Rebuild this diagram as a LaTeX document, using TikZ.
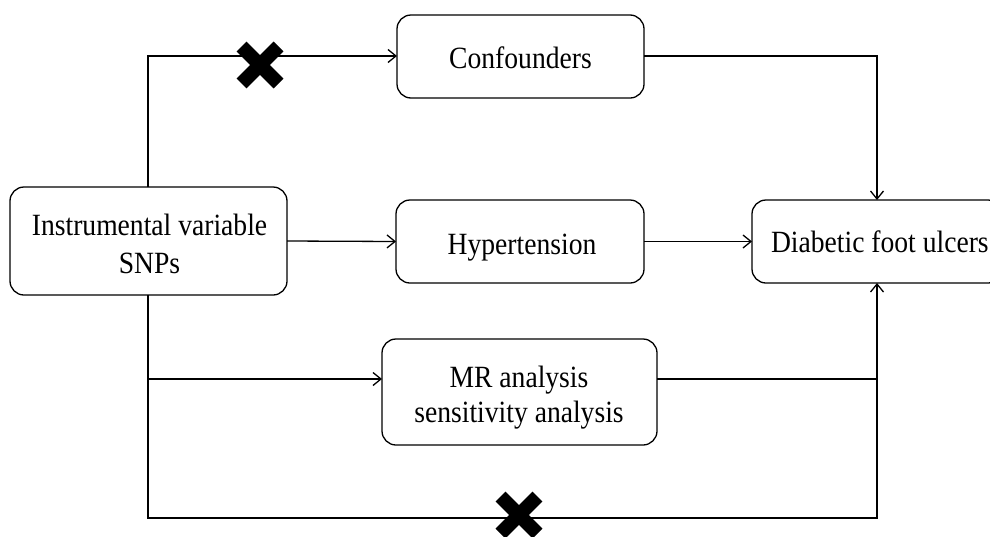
\documentclass[tikz,border=0pt]{standalone}
\usepackage{fontspec}
\setmainfont{Liberation Serif}
\usetikzlibrary{arrows.meta}
\newcommand{\tallify}[1]{\scalebox{1}[1.12]{#1}}
\begin{document}
\begin{tikzpicture}[x=1pt,y=-1pt,
  box/.style={draw, line width=1.3pt, rounded corners=14pt, inner sep=0pt, outer sep=0pt},
  txt/.style={inner sep=0pt, outer sep=0pt, anchor=base, font=\fontsize{27.6}{33}\selectfont},
  conn/.style={line width=1.3pt},
  arr/.style={conn, -{Straight Barb[length=8pt,width=13pt,line width=1.3pt]}},
  cross/.style={line width=14pt, black}]
\clip (0,0) rectangle (990,536);
\fill[white] (0,0) rectangle (990,536);
% boxes
\node[box, minimum width=277pt, minimum height=108pt] (iv) at (148.5,241) {};
\node[box, minimum width=247pt, minimum height=83pt] (conf) at (520.5,56.5) {};
\node[box, minimum width=248pt, minimum height=83pt] (hyp) at (520,241.5) {};
\node[box, minimum width=275pt, minimum height=106pt] (mr) at (519.5,392) {};
\node[box, minimum width=250pt, minimum height=83pt] (dfu) at (877,241.5) {};
% texts
\node[txt] (ivt1) at (149.5,235) {\tallify{Instrumental variable}};
\node[txt] (ivt2) at (149.5,273) {\tallify{SNPs}};
\node[txt] (conft) at (520.5,68) {\tallify{Confounders}};
\node[txt] (hypt) at (522,254) {\tallify{Hypertension}};
\node[txt] (mrt1) at (519,387) {\tallify{MR analysis}};
\node[txt] (mrt2) at (519,422) {\tallify{sensitivity analysis}};
\node[txt, anchor=base west] (dfut) at (771,252) {\tallify{Diabetic foot ulcers}};
% connectors
\coordinate (tl) at (148,56);
\coordinate (tr) at (877,56);
\coordinate (br) at (877,518);
\coordinate (bl) at (148,518);
\coordinate (ml) at (148,379);
\coordinate (mrr) at (877,379);
\draw[arr] (iv.north -| tl) -- (tl) -- (conf.west |- tl);
\draw[arr] (conf.east |- tr) -- (tr) -- (dfu.north -| tr);
\draw[arr] (iv.east) -- (hyp.west);
\draw[arr] (hyp.east) -- (dfu.west);
\draw[arr] (iv.south -| bl) -- (bl) -- (br) -- (dfu.south -| br);
\draw[arr] (ml) -- (mr.west |- ml);
\draw[conn] (mr.east |- mrr) -- (mrr);
% crosses
\coordinate (x1) at (260,65);
\coordinate (x2) at (519,515);
\foreach \c in {x1,x2}{
  \draw[cross] ([shift={(-18.5,-18.5)}]\c) -- ([shift={(18.5,18.5)}]\c);
  \draw[cross] ([shift={(-18.5,18.5)}]\c) -- ([shift={(18.5,-18.5)}]\c);
}
\end{tikzpicture}
\end{document}
